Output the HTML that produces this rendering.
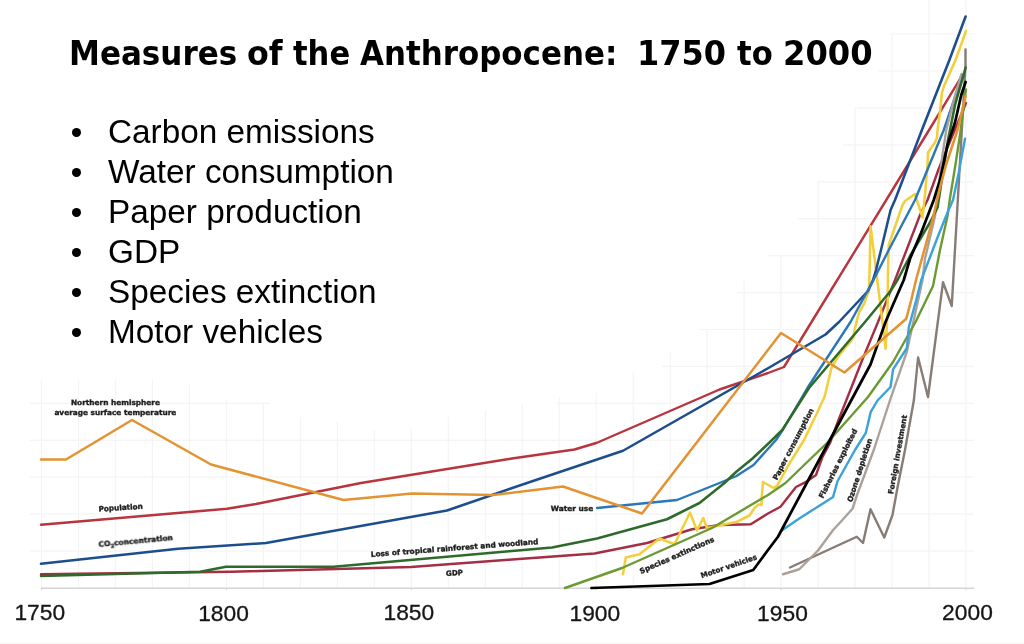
<!DOCTYPE html>
<html lang="en">
<head>
<meta charset="utf-8">
<title>Measures of the Anthropocene: 1750 to 2000</title>
<style>
html,body{margin:0;padding:0;background:#fff;}
body{width:1024px;height:644px;position:relative;overflow:hidden;font-family:"Liberation Sans",sans-serif;color:#000;}
#chart{position:absolute;left:0;top:0;width:1024px;height:644px;}
h1{position:absolute;left:0;top:32.5px;width:1024px;height:40px;margin:0;white-space:pre;font-family:"DejaVu Sans Condensed","DejaVu Sans","Liberation Sans",sans-serif;font-weight:bold;font-size:34.3px;line-height:40px;}
h1 span{position:absolute;top:0;display:block;transform-origin:0 0;}
ul{position:absolute;left:72px;top:112px;margin:0;padding:0;list-style:none;font-size:33.33px;line-height:40px;}
li{position:relative;padding-left:36px;white-space:nowrap;height:40px;}
li::before{content:"";position:absolute;left:0px;top:16px;width:9px;height:9px;border-radius:50%;background:#000;}
.ax{font-family:"Liberation Sans",sans-serif;font-size:22.8px;fill:#161616;stroke:#161616;stroke-width:0.3px;}
.lb{font-family:"DejaVu Sans","Liberation Sans",sans-serif;font-weight:bold;fill:#1c1c1c;stroke:#1c1c1c;stroke-width:0.35px;}
#strip{position:absolute;left:0;top:643px;width:1024px;height:1px;background:#fcf0f0;}
</style>
</head>
<body>
<svg id="chart" width="1024" height="644" viewBox="0 0 1024 644">

<g stroke="#f4f4f4" stroke-width="1.2" fill="none">
<line x1="41.5" y1="380" x2="41.5" y2="588"/>
<line x1="78.5" y1="380" x2="78.5" y2="588"/>
<line x1="115.5" y1="380" x2="115.5" y2="588"/>
<line x1="152.4" y1="380" x2="152.4" y2="588"/>
<line x1="189.4" y1="385" x2="189.4" y2="588"/>
<line x1="226.4" y1="400" x2="226.4" y2="588"/>
<line x1="263.4" y1="404" x2="263.4" y2="588"/>
<line x1="300.4" y1="417" x2="300.4" y2="588"/>
<line x1="337.3" y1="422" x2="337.3" y2="588"/>
<line x1="374.3" y1="430" x2="374.3" y2="588"/>
<line x1="411.3" y1="427" x2="411.3" y2="588"/>
<line x1="448.3" y1="417" x2="448.3" y2="588"/>
<line x1="485.3" y1="410" x2="485.3" y2="588"/>
<line x1="522.2" y1="404" x2="522.2" y2="588"/>
<line x1="559.2" y1="397" x2="559.2" y2="588"/>
<line x1="596.2" y1="392" x2="596.2" y2="588"/>
<line x1="633.2" y1="372" x2="633.2" y2="588"/>
<line x1="670.2" y1="352" x2="670.2" y2="588"/>
<line x1="707.1" y1="330" x2="707.1" y2="588"/>
<line x1="744.1" y1="281" x2="744.1" y2="588"/>
<line x1="781.1" y1="256" x2="781.1" y2="588"/>
<line x1="818.1" y1="181" x2="818.1" y2="588"/>
<line x1="855.1" y1="107" x2="855.1" y2="588"/>
<line x1="892.0" y1="35" x2="892.0" y2="588"/>
<line x1="929.0" y1="0" x2="929.0" y2="588"/>
<line x1="966.0" y1="0" x2="966.0" y2="588"/>
<line x1="30" y1="551.1" x2="974" y2="551.1"/>
<line x1="30" y1="514.1" x2="974" y2="514.1"/>
<line x1="30" y1="477.2" x2="974" y2="477.2"/>
<line x1="30" y1="440.3" x2="974" y2="440.3"/>
<line x1="30" y1="403.4" x2="270" y2="403.4"/>
<line x1="557" y1="403.4" x2="974" y2="403.4"/>
<line x1="662" y1="366.4" x2="974" y2="366.4"/>
<line x1="700" y1="329.5" x2="974" y2="329.5"/>
<line x1="737" y1="292.6" x2="974" y2="292.6"/>
<line x1="768" y1="255.6" x2="974" y2="255.6"/>
<line x1="798" y1="218.7" x2="974" y2="218.7"/>
<line x1="818" y1="181.8" x2="974" y2="181.8"/>
<line x1="843" y1="144.8" x2="974" y2="144.8"/>
<line x1="857" y1="107.9" x2="974" y2="107.9"/>
<line x1="878" y1="71.0" x2="974" y2="71.0"/>
<line x1="890" y1="34.0" x2="974" y2="34.0"/>
</g>
<g stroke="#d4d4d4" stroke-width="1" fill="none">
<line x1="41" y1="588.2" x2="974" y2="588.2" stroke-width="1.4"/>
<line x1="41.5" y1="588" x2="41.5" y2="590.3"/>
<line x1="226.4" y1="588" x2="226.4" y2="590.3"/>
<line x1="411.3" y1="588" x2="411.3" y2="590.3"/>
<line x1="596.2" y1="588" x2="596.2" y2="590.3"/>
<line x1="781.1" y1="588" x2="781.1" y2="590.3"/>
<line x1="966.0" y1="588" x2="966.0" y2="590.3"/>
</g>
<defs><filter id="soft" x="-5%" y="-5%" width="110%" height="110%"><feGaussianBlur stdDeviation="0.45"/></filter></defs>
<g fill="none" stroke-linejoin="round" stroke-linecap="round" filter="url(#soft)">
<polyline id="foreign" stroke="#877c76" stroke-width="2.4" points="790,567.5 856.75,536.75 863,543 870.5,509.25 884.25,537.5 892.5,515 897.5,487.5 905,450 913.9,400 918.1,357.5 928,397 943,282.25 951.75,306 958.5,188 965.5,66 965.5,49.5"/>
<polyline id="pop" stroke="#b8343c" stroke-width="2.4" points="41,524.75 227,508.75 256,504 361,483 512,458.5 574.5,449.5 597,442.75 719.5,389.5 768,373 784,367 825,300 887.5,198 930,128.5 960,79 962.5,75"/>
<polyline id="gdp" stroke="#a32f45" stroke-width="2.4" points="41,574.25 232,571.7 411,567 512,559.5 594.5,553.5 647,543 692,529.25 719.5,525 750.75,524.25 768,513.5 780.5,506.75 796,487 806,481.9 816,475 822.25,457.5 830,443 838.5,420 862.25,360 878,322 895,280 920,215 927.5,200 938.75,168.75 966,103"/>
<polyline id="paper" stroke="#f2cf3d" stroke-width="2.55" points="623,574.25 625.75,557.5 639.5,554.25 659.5,538.5 674.5,544.25 690,512.5 697,530.5 703.25,518 707,528 737,521.75 749.5,515.5 754.5,508 758.5,504.4 761.6,505 761.6,498.5 763,482 773.5,488 777.25,485.6 788.5,465 804,440 817.25,412.5 824.75,396.25 831.6,367.5 834.5,362.5 839,355.5 845.5,347.5 850,342.5 853.5,337 854.5,330 859,312.5 864,304 869,290 869.6,270 870.6,226.25 877.4,281 881,310 885.6,348.75 887.6,310 888,270 888.75,245 902.5,205 905,201 915,194 922.5,217.5 925,195 927.5,165 928,152.5 935,142.5 937,137.5 937.5,130 940,112 942,92.5 944,86 955.6,60 966,31"/>
<polyline id="co2" stroke="#1f4e8c" stroke-width="2.55" points="41,563.75 178,548.75 266,543 447,510.5 527,483 623,450.75 768,368.25 825.5,334.5 839,322 868,291 873,280 876,270 881,250 887,225 890.6,210 895,200 921.9,130 949.4,60 965.6,16.5"/>
<polyline id="water" stroke="#2a78b8" stroke-width="2.4" points="597,508 677,500 719.5,483 736,476.25 753.5,465 776,440 783,429.5 808,387 850.5,322 873,281 888.75,250 915,200 943.75,130 953,103 958,88 962,77"/>
<polyline id="ozone" stroke="#aaa19b" stroke-width="2.4" points="783,574.25 799.25,569.25 818,550.5 833.1,530 841.25,521.25 852.5,508.75 857.5,493.75 873.75,450 890.1,400 906.75,352 922.5,280 925,258.75 935,216 942.5,155 946.25,130 955.5,94 961.5,74"/>
<polyline id="species" stroke="#6c9a33" stroke-width="2.4" points="565,588 622,568 712,528 768,495 785.5,483 828,442 868,397 893,362 915.5,322 933,286 940,250 947.5,216 950,198 955,167.5 960,135 966,89.4"/>
<polyline id="fish" stroke="#3aa2da" stroke-width="2.4" points="781.75,530.5 800,518.1 833.1,496.9 837.5,481.25 855,450 865.75,433 870.75,411.9 877.5,400.5 890.5,387 893.1,369.4 906.9,348 908.75,327.5 916.25,300 921.25,280 937.5,237.5 947.5,212.5 953,200 958.75,172.5 965,138.75"/>
<polyline id="forest" stroke="#2e6a2c" stroke-width="2.55" points="41,576 200,571.75 226,566.75 333.5,566.75 512,551 552,547.5 597,538.5 667,519.25 699.5,503 724.5,483 736,472 752.25,458.75 771,441 782.25,430 809,388 865,322 890.5,291 897.5,280 910,256 930,222.5 937.5,207.5 948,140 955,105 962.5,78.75 965.6,67.5"/>
<polyline id="motor" stroke="#000000" stroke-width="2.75" points="591.5,588 709.5,584 753.25,570 768,550 778,536.75 806.75,483 870.5,364.5 885.5,322 903.75,280 910,258.75 921.25,232.5 933.75,200 940,180 947.5,145 955,122.5 961.25,95 965.6,82"/>
<polyline id="temp" stroke="#e39332" stroke-width="2.55" points="41,459.5 66,459.5 132,420 211,464.5 343.5,500 412,493.5 493.5,495 563,486.5 642,513.5 781,333 844.4,372.5 906.25,318.75 911.25,300 916,280 925,247.5 932.5,220 940,187.5 946,165 957.5,130 965.6,96"/>
</g>
<g class="lb" font-size="7.3" filter="url(#soft)">
<text transform="translate(70.90 405.30)" textLength="89.1" lengthAdjust="spacingAndGlyphs">Northern hemisphere</text>
<text transform="translate(54.40 415.00)" textLength="121.9" lengthAdjust="spacingAndGlyphs">average surface temperature</text>
<text transform="translate(98.75 511.50) rotate(-3.56)" textLength="44.2" lengthAdjust="spacingAndGlyphs">Population</text>
<text transform="translate(550.75 511.00)" textLength="42.5" lengthAdjust="spacingAndGlyphs">Water use</text>
<text transform="translate(446.00 575.90) rotate(-3.01)" textLength="17.1" lengthAdjust="spacingAndGlyphs">GDP</text>
<text transform="translate(371.00 556.90) rotate(-4.40)" textLength="168.0" lengthAdjust="spacingAndGlyphs">Loss of tropical rainforest and woodland</text>
<text transform="translate(641.10 573.90) rotate(-23.93)" textLength="80.6" lengthAdjust="spacingAndGlyphs">Species extinctions</text>
<text transform="translate(701.75 578.30) rotate(-19.13)" textLength="58.9" lengthAdjust="spacingAndGlyphs">Motor vehicles</text>
<text transform="translate(777.00 480.50) rotate(-62.31)" textLength="79.6" lengthAdjust="spacingAndGlyphs">Paper consumption</text>
<text transform="translate(823.10 498.75) rotate(-63.25)" textLength="76.4" lengthAdjust="spacingAndGlyphs">Fisheries exploited</text>
<text transform="translate(851.90 502.50) rotate(-72.13)" textLength="66.3" lengthAdjust="spacingAndGlyphs">Ozone depletion</text>
<text transform="translate(893.10 494.40) rotate(-80.00)" textLength="80.0" lengthAdjust="spacingAndGlyphs">Foreign investment</text>
<text transform="translate(98.75 546.90) rotate(-5.30)" textLength="74.7" lengthAdjust="spacingAndGlyphs">CO<tspan font-size="5" dy="2">2</tspan><tspan dy="-2">concentration</tspan></text>
</g>
<g class="ax">
<text x="14.4" y="620.4">1750</text>
<text x="198.2" y="620.9">1800</text>
<text x="383.5" y="620.0">1850</text>
<text x="569.5" y="620.9">1900</text>
<text x="757.1" y="621.2">1950</text>
<text x="942.1" y="619.8">2000</text>
</g>
</svg>
<h1><span style="left:69.48px;transform:scaleX(1.0055)">Measures</span> <span style="left:246.57px;transform:scaleX(1.0294)">of</span> <span style="left:292.6px;transform:scaleX(0.9911)">the</span> <span style="left:360.25px;transform:scaleX(1.002)">Anthropocene:</span> <span style="left:637.29px;transform:scaleX(1.0352)">1750</span> <span style="left:736.75px;transform:scaleX(0.9929)">to</span> <span style="left:782.91px;transform:scaleX(1.0427)">2000</span></h1>
<ul>
<li>Carbon emissions</li>
<li>Water consumption</li>
<li>Paper production</li>
<li>GDP</li>
<li>Species extinction</li>
<li>Motor vehicles</li>
</ul>
<div id="strip"></div>
</body>
</html>
